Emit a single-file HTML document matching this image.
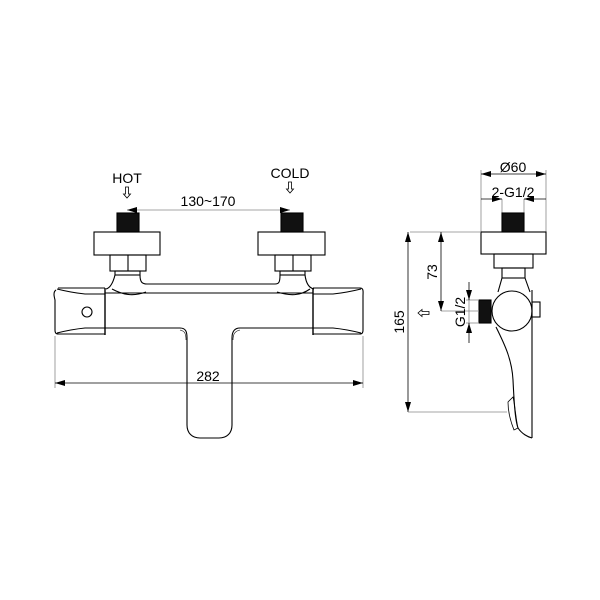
<!DOCTYPE html>
<html><head><meta charset="utf-8"><style>
html,body{margin:0;padding:0;background:#fff}
svg{display:block}
text{font-family:"Liberation Sans",Arial,sans-serif;fill:#000}
</style></head><body>
<svg width="600" height="600" viewBox="0 0 600 600" xmlns="http://www.w3.org/2000/svg">
<defs>
<marker id="a" viewBox="0 0 10 6" refX="10" refY="3" markerWidth="10" markerHeight="6" orient="auto-start-reverse" markerUnits="userSpaceOnUse"><path d="M0,0 L10,3 L0,6 Z" fill="#000"/></marker>
</defs>
<g fill="none" stroke="#000" stroke-width="1.1">
<!-- FRONT VIEW -->
<text x="127" y="183" font-size="14" text-anchor="middle" stroke="none">HOT</text>
<text x="290" y="178" font-size="14" text-anchor="middle" stroke="none">COLD</text>
<text x="208" y="206" font-size="14" text-anchor="middle" stroke="none">130~170</text>
<path d="M125.5,187 v7 h-2 l3.5,4 l3.5,-4 h-2 v-7 z" stroke-width="0.8"/>
<path d="M288.5,182 v7 h-2 l3.5,4 l3.5,-4 h-2 v-7 z" stroke-width="0.8"/>
<line x1="127" y1="210" x2="290" y2="210" stroke="#888" stroke-width="0.8" marker-start="url(#a)" marker-end="url(#a)"/>
<!-- pipes -->
<rect x="117" y="213" width="22" height="19" fill="#111"/>
<rect x="281" y="213" width="22" height="19" fill="#111"/>
<!-- flanges -->
<rect x="94" y="232" width="66" height="23"/>
<rect x="258" y="232" width="67" height="23"/>
<!-- nuts -->
<rect x="110" y="255" width="36" height="16"/><line x1="128" y1="255" x2="128" y2="271"/>
<rect x="275" y="255" width="36" height="16"/><line x1="293" y1="255" x2="293" y2="271"/>
<rect x="115" y="271" width="25" height="4"/>
<rect x="280" y="271" width="25" height="4"/>
<!-- necks -->
<path d="M115,275 C113,283 110,288 106,289"/>
<path d="M140,275 C140,282 142,284 147,284 L275,284 C279,284 280,282 280,275"/>
<path d="M305,275 C306,283 309,288 314,289"/>
<path d="M112,289 C125,296 135,296 146,292"/>
<path d="M277,292 C290,296 300,296 310,289"/>
<!-- body -->
<path d="M58,288 L105,288 M56,290 C53,292 54,296 55,300 L55,330 C55,334 57,334 59,334 L105,334"/>
<path d="M57,289 C65,291 75,293 85,294 L105,294"/>
<path d="M57,333 C65,331 75,329 85,328 L105,328"/>
<line x1="105" y1="288" x2="105" y2="335" stroke-width="1.4"/>
<line x1="313" y1="288" x2="313" y2="335" stroke-width="1.4"/>
<path d="M105,293 L313,293"/>
<path d="M313,288 L360,288 C364,288 363,292 363,296 L363,330 C363,334 361,334 359,334 L313,334"/>
<path d="M361,289 C353,291 343,293 333,294 L313,294"/>
<path d="M361,333 C353,331 343,329 333,328 L313,328"/>
<circle cx="87" cy="312" r="5"/>
<!-- spout -->
<path d="M105,328 L180,328 C186,328 187,332 187,338 L187,425 C187,433 192,438 200,438 L219,438 C227,438 232,433 232,425 L232,338 C232,332 234,328 240,328 L313,328"/>
<path d="M180,330 C185,331 186,334 186,340" stroke-width="0.6"/>
<path d="M240,330 C235,331 233,334 233,340" stroke-width="0.6"/>
<!-- 282 dimension -->
<line x1="55" y1="336" x2="55" y2="388" stroke="#888" stroke-width="0.8"/>
<line x1="363" y1="336" x2="363" y2="388" stroke="#888" stroke-width="0.8"/>
<line x1="55" y1="383" x2="363" y2="383" stroke-width="0.8" marker-start="url(#a)" marker-end="url(#a)"/>
<text x="208" y="381" font-size="14" text-anchor="middle" stroke="none">282</text>

<!-- SIDE VIEW -->
<text x="513" y="172" font-size="14" text-anchor="middle" stroke="none">Ø60</text>
<text x="513" y="197" font-size="14" text-anchor="middle" stroke="none">2-G1/2</text>
<line x1="481" y1="170" x2="481" y2="232" stroke="#888" stroke-width="0.8"/>
<line x1="546" y1="170" x2="546" y2="232" stroke="#888" stroke-width="0.8"/>
<line x1="481" y1="174" x2="546" y2="174" stroke-width="0.8" marker-start="url(#a)" marker-end="url(#a)"/>
<line x1="502" y1="199" x2="502" y2="213" stroke="#888" stroke-width="0.8"/>
<line x1="524" y1="199" x2="524" y2="213" stroke="#888" stroke-width="0.8"/>
<line x1="481" y1="199" x2="502" y2="199" stroke-width="0.8" marker-end="url(#a)"/>
<line x1="546" y1="199" x2="524" y2="199" stroke-width="0.8" marker-end="url(#a)"/>
<rect x="502" y="213" width="22" height="19" fill="#111"/>
<rect x="481" y="232" width="65" height="22"/>
<rect x="494" y="254" width="39" height="14"/>
<rect x="502" y="268" width="23" height="10"/>
<path d="M502,278 L498,292"/>
<path d="M525,278 L530,292"/>
<circle cx="512" cy="311" r="20"/>
<line x1="532" y1="290" x2="532" y2="438"/>
<rect x="532" y="302" width="8" height="15"/>
<rect x="479" y="300" width="12" height="23" fill="#111"/>
<path d="M496,327 C505,345 512,360 513,380 C514,400 515,420 518,428 C522,434 528,437 532,438"/>
<path d="M508,402 L513,397 C515,405 516,420 518,428 L514,430 C510,420 508,410 508,402 Z" stroke-width="0.8"/>
<!-- 73 -->
<line x1="410" y1="232" x2="481" y2="232" stroke="#888" stroke-width="0.8"/>
<line x1="441" y1="311" x2="479" y2="311" stroke="#888" stroke-width="0.8"/>
<line x1="441" y1="232" x2="441" y2="311" stroke-width="0.8" marker-start="url(#a)" marker-end="url(#a)"/>
<text transform="translate(437,272) rotate(-90)" font-size="14" text-anchor="middle" stroke="none">73</text>
<!-- G1/2 -->
<line x1="466" y1="300" x2="479" y2="300" stroke="#888" stroke-width="0.8"/>
<line x1="466" y1="323" x2="479" y2="323" stroke="#888" stroke-width="0.8"/>
<line x1="469" y1="282" x2="469" y2="300" stroke-width="0.8" marker-end="url(#a)"/>
<line x1="469" y1="343" x2="469" y2="323" stroke-width="0.8" marker-end="url(#a)"/>
<line x1="469" y1="300" x2="469" y2="323" stroke="#888" stroke-width="0.8"/>
<text transform="translate(465,312) rotate(-90)" font-size="14" text-anchor="middle" stroke="none">G1/2</text>
<!-- 165 -->
<line x1="408" y1="232" x2="408" y2="412" stroke-width="0.8" marker-start="url(#a)" marker-end="url(#a)"/>
<line x1="408" y1="412" x2="507" y2="412" stroke="#888" stroke-width="0.8"/>
<text transform="translate(404,322) rotate(-90)" font-size="14" text-anchor="middle" stroke="none">165</text>
<path d="M419,311.5 h7 v-2 l4,3.5 l-4,3.5 v-2 h-7 z" stroke-width="0.8" transform="rotate(180 424 313)"/>
</g>
</svg>
</body></html>
